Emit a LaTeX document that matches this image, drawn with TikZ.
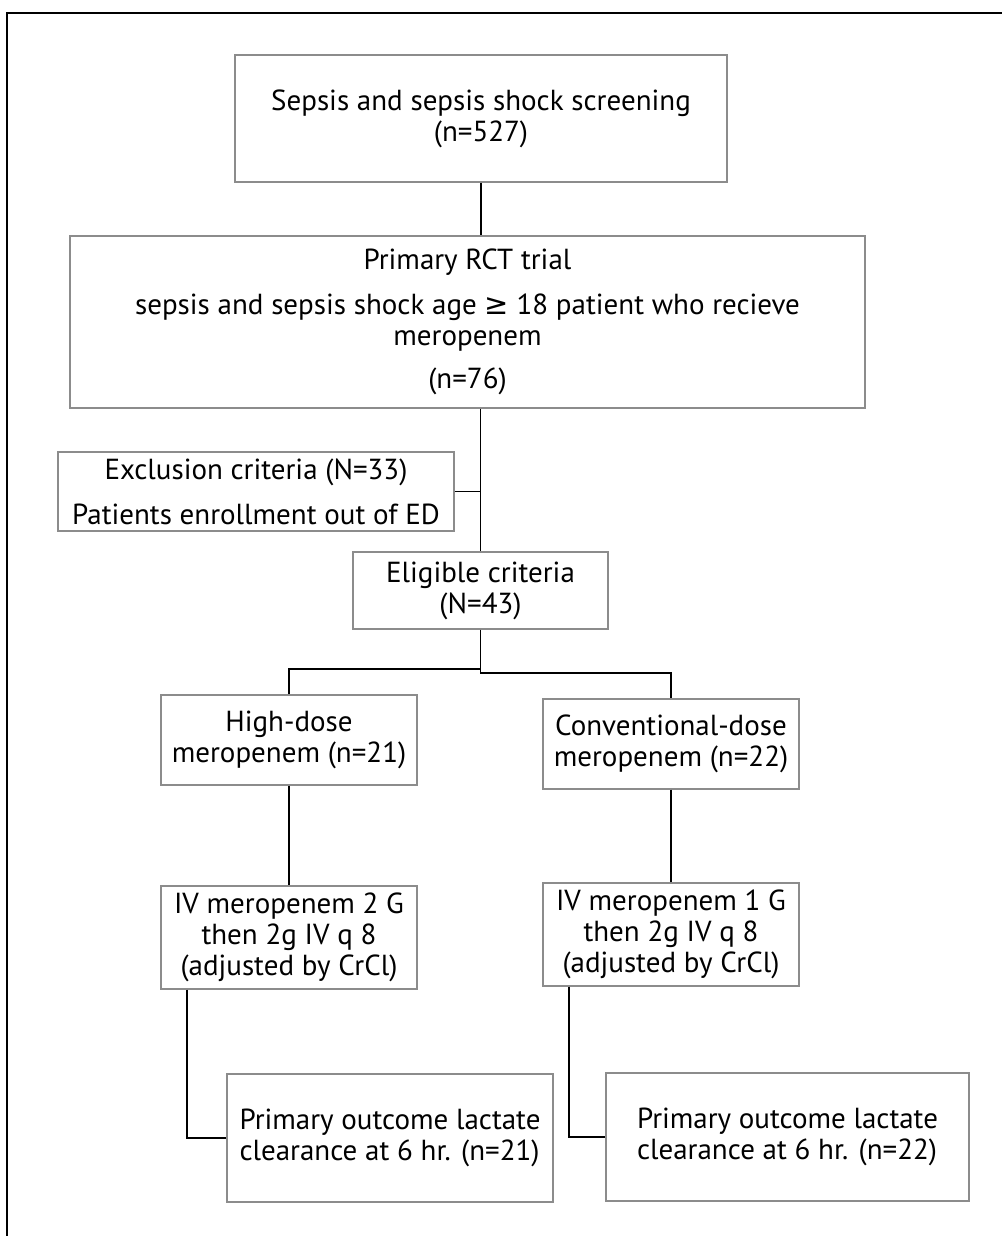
\documentclass[tikz,border=0pt]{standalone}
\usepackage{fontspec}
\setmainfont{PT Sans}
\newfontfamily\symfont{DejaVu Sans}
\begin{document}
\begin{tikzpicture}[x=1pt,y=-1pt,
        box/.style={draw=black!45,line width=1.2pt,rectangle,inner sep=2pt,
            align=center,font=\fontsize{29}{31}\selectfont},
        link/.style={draw=black,line width=1.8pt}]
\useasboundingbox (0,0) rectangle (1002,1236);
\draw[line width=2pt] (7,1236) -- (7,13) -- (1002,13);

\node[box,minimum width=492pt,minimum height=127pt] (screen) at (481,118.5)
    {Sepsis and sepsis shock screening\\(n=527)};
\node[box,minimum width=795pt,minimum height=172pt] (rct) at (467.5,322)
    {Primary RCT trial\\[14pt]sepsis and sepsis shock age {\symfont ≥} 18 patient who recieve\\meropenem\\[12pt](n=76)};
\node[box,minimum width=396pt,minimum height=79pt] (excl) at (256,491.5)
    {Exclusion criteria (N=33)\\[14pt]Patients enrollment out of ED};
\node[box,minimum width=255pt,minimum height=77pt] (elig) at (480.5,590.5)
    {Eligible criteria\\(N=43)};

\node[box,minimum width=256pt,minimum height=90pt] (high) at (289,740)
    {High-dose\\meropenem (n=21)};
\node[box,minimum width=256pt,minimum height=90pt] (conv) at (671,744)
    {Conventional-dose\\meropenem (n=22)};
\node[box,minimum width=256pt,minimum height=103pt] (ivhigh) at (289,937.5)
    {IV meropenem 2 G\\then 2g IV q 8\\(adjusted by CrCl)};
\node[box,minimum width=256pt,minimum height=103pt] (ivconv) at (671,934.5)
    {IV meropenem 1 G\\then 2g IV q 8\\(adjusted by CrCl)};
\node[box,align=left,minimum width=326pt,minimum height=128pt] (outhigh) at (390,1138)
    {Primary outcome lactate\\clearance at 6 hr. (n=21)};
\node[box,align=left,minimum width=363pt,minimum height=128pt] (outconv) at (787.5,1137)
    {Primary outcome lactate\\clearance at 6 hr. (n=22)};

\draw[link] (screen.south) -- (screen.south |- rct.north);
\draw[link] (elig.north |- rct.south) -- (elig.north);
\draw[link] (excl.east) -- (excl.east -| elig.north);
\draw[link] (elig.south) -- ++(0,43) -| (conv.north);
\draw[link] (elig.south) ++(0,39) -| (high.north);
\draw[link] (high.south) -- (ivhigh.north);
\draw[link] (conv.south) -- (ivconv.north);
\draw[link] ([xshift=-102pt]ivhigh.south) |- (outhigh.west);
\draw[link] ([xshift=-102pt]ivconv.south) |- (outconv.west);
\end{tikzpicture}
\end{document}
